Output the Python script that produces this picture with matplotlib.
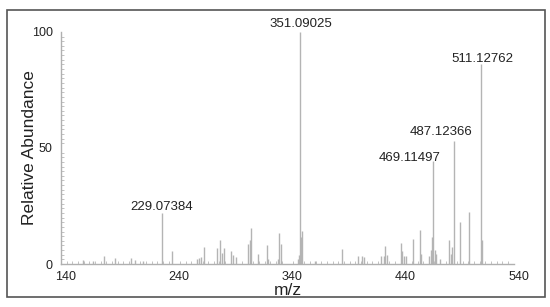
import matplotlib
matplotlib.use("Agg")
import matplotlib.pyplot as plt
import matplotlib.transforms as mtransforms
from matplotlib.patches import Rectangle
from matplotlib.ticker import MultipleLocator

plt.rcParams["font.family"] = ["Liberation Sans", "DejaVu Sans"]

# spectrum peaks (m/z, relative abundance)
mz = [159.6, 168.4, 178.1, 187.6, 201.8, 205.3, 212.7, 229.07384, 237.8,
      260.2, 262.0, 263.7, 266.1, 278.1, 280.4, 282.3, 284.1, 290.1, 292.0,
      294.4, 305.6, 307.1, 308.0, 314.2, 321.9, 323.3, 331.9, 333.0, 334.2,
      349.1, 350.1, 351.09025, 351.9, 352.8, 364.6, 388.2, 402.4, 406.2, 407.7,
      423.0, 425.0, 426.5, 428.0, 440.4, 441.6, 442.7, 444.5, 450.7, 456.9,
      458.4, 464.9, 466.6, 467.9, 469.11497, 470.2, 471.4, 475.2, 482.9, 484.3,
      485.6, 487.12366, 492.9, 500.9, 511.12762, 512.13]
abundance = [1.7, 1.5, 3.3, 2.6, 2.6, 1.7, 1.2, 22.0, 5.5,
             2.0, 2.5, 3.0, 7.4, 6.9, 10.2, 4.7, 7.0, 5.6, 4.0,
             3.0, 8.6, 10.5, 15.4, 4.3, 8.0, 2.0, 2.0, 13.4, 8.6,
             2.0, 4.0, 100.0, 11.6, 14.4, 1.4, 6.5, 3.6, 3.6, 2.9,
             3.3, 3.3, 7.9, 3.9, 9.0, 5.7, 3.4, 3.4, 10.8, 14.8,
             4.3, 3.4, 6.2, 11.6, 44.4, 6.2, 4.3, 2.0, 10.3, 4.3,
             7.3, 53.0, 18.0, 22.3, 86.0, 10.3]

# labelled peaks and where their labels sit
label_text = ["229.07384", "351.09025", "469.11497", "487.12366", "511.12762"]
label_x = [229.3, 351.5, 447.8, 476.0, 512.4]
label_y = [24.5, 103.4, 45.5, 56.7, 88.4]

x_ticks = [140, 240, 340, 440, 540]
y_ticks = [0, 50, 100]

fig = plt.figure(figsize=(5.5, 3.07), dpi=100)
ax = fig.add_axes([0.111, 0.140, 0.823, 0.756])

ax.vlines(mz, 0, abundance, color="#b4b4b4", linewidth=1.0)

for t, x, y in zip(label_text, label_x, label_y):
    ax.text(x, y, t, ha="center", va="center", fontsize=9.5,
            color="#222222", clip_on=False)

ax.set_xlim(140, 540)
ax.set_ylim(0, 100)
ax.set_xticks(x_ticks)
ax.set_yticks(y_ticks)
ax.xaxis.set_minor_locator(MultipleLocator(5))
ax.yaxis.set_minor_locator(MultipleLocator(2))
ax.tick_params(axis="both", which="major", length=0, labelsize=9,
               labelcolor="#222222")
ax.tick_params(axis="x", which="major", pad=5)
ax.tick_params(axis="y", which="major", pad=6)
ax.tick_params(axis="both", which="minor", length=2, width=0.6,
               color="#b8b8b8", direction="in")

# tick labels sit a little to the right of their ticks in the original
shift = mtransforms.ScaledTranslation(5 / 100, 0, fig.dpi_scale_trans)
for lab in ax.get_xticklabels():
    lab.set_transform(lab.get_transform() + shift)

for side in ["top", "right"]:
    ax.spines[side].set_visible(False)
for side in ["left", "bottom"]:
    ax.spines[side].set_color("#b0b0b0")
    ax.spines[side].set_linewidth(1.0)

ax.set_xlabel("m/z", fontsize=12.5, color="#222222", labelpad=0)
ax.set_ylabel("Relative Abundance", fontsize=12.5, color="#222222", labelpad=-4)

fig.patches.append(Rectangle((0.0127, 0.0326), 0.978, 0.935,
                             transform=fig.transFigure, fill=False,
                             edgecolor="#555555", linewidth=1.2))

fig.savefig("out.png", dpi=100)
